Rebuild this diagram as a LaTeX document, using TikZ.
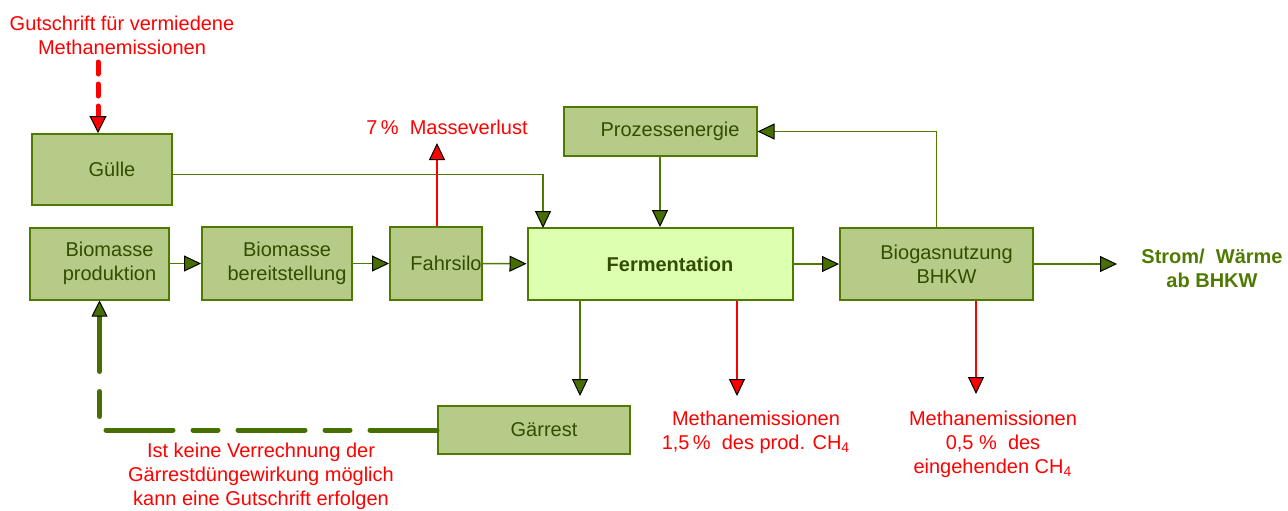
\documentclass[tikz,border=0pt]{standalone}
\usepackage{fontspec}
\setmainfont{Liberation Sans}
\usetikzlibrary{arrows.meta}
\definecolor{boxfill}{RGB}{183,203,136}
\definecolor{fermfill}{RGB}{221,255,176}
\definecolor{boxline}{RGB}{79,122,0}
\definecolor{boxtext}{RGB}{51,77,0}
\definecolor{tipgreen}{RGB}{70,110,0}
\tikzset{
  stage/.style={draw=boxline, line width=1pt, fill=boxfill, text=boxtext, align=center,
    inner sep=0pt, font=\fontsize{10}{12}\selectfont, execute at begin node={\hspace*{10pt}}},
  flow/.style={draw=boxline, line width=0.75pt,
    -{Triangle[color=black, fill=tipgreen, width=8pt, length=8.5pt, line width=0.5pt]}},
  loss/.style={draw=red, line width=0.6pt,
    -{Triangle[color=black, fill=red, width=8pt, length=8.5pt, line width=0.5pt]}},
  note/.style={text=red, align=center, inner sep=0pt, font=\fontsize{10}{12}\selectfont}
}
\begin{document}
\begin{tikzpicture}[x=0.5pt, y=-0.5pt]
  \useasboundingbox (0,0) rectangle (1288,510);
  % Boxes
  \node[stage, minimum width=70pt, minimum height=35.5pt] (guelle) at (102,169.5) {Gülle};
  \node[stage, minimum width=69.5pt, minimum height=36pt] (prod) at (99.5,263.5) {Biomasse\\produktion};
  \node[stage, minimum width=75pt, minimum height=36.5pt] (bereit) at (277,263.5) {Biomasse\\bereitstellung};
  \node[stage, minimum width=46pt, minimum height=36.5pt] (silo) at (436,263.5) {Fahrsilo};
  \node[stage, fill=fermfill, minimum width=132.5pt, minimum height=36pt,
    font=\fontsize{10}{12}\selectfont\bfseries] (ferm) at (660,264) {Fermentation};
  \node[stage, minimum width=96.5pt, minimum height=24.5pt] (energie) at (660,131.5) {Prozessenergie};
  \node[stage, minimum width=96.5pt, minimum height=36pt] (bhkw) at (936.5,264) {Biogasnutzung\\BHKW};
  \node[stage, minimum width=96pt, minimum height=24pt] (gaerrest) at (534,430) {Gärrest};
  % Labels
  \node[note] (topnote) at (122,35) {Gutschrift für vermiedene\\Methanemissionen};
  \node[note] (massnote) at (447,127) {7\,\%\ \ Masseverlust};
  \node[note] (fermnote) at (756,432) {Methanemissionen\\1,5\,\%\ \ des prod. CH\textsubscript{4}};
  \node[note] (bhkwnote) at (993,444) {Methanemissionen\\0,5 \%\ \ des\\eingehenden CH\textsubscript{4}};
  \node[note] (gaernote) at (261,476) {Ist keine Verrechnung der\\Gärrestdüngewirkung möglich\\kann eine Gutschrift erfolgen};
  \node[text=boxline, align=center, inner sep=0pt, font=\fontsize{10}{12}\selectfont\bfseries]
    (strom) at (1212,268) {Strom/\ \ Wärme\\ab BHKW};
  % Free ends
  \coordinate (fermin) at (543,228);
  \coordinate (garin) at (580,396);
  \coordinate (lossmass) at (437,143);
  \coordinate (lossferm) at (737,396);
  \coordinate (lossbhkw) at (976,394);
  \coordinate (stromin) at (1117,264);
  \coordinate (credit) at (98,62);
  % Main flow
  \draw[flow] (prod) -- (bereit);
  \draw[flow] (bereit) -- (silo);
  \draw[flow] (silo) -- (ferm);
  \draw[flow] ([yshift=-2.5pt]guelle.east) -| (fermin);
  \draw[flow] (energie) -- (ferm);
  \draw[flow] (ferm) -- (bhkw);
  \draw[flow] (bhkw.north) |- (energie.east);
  \draw[flow] (bhkw.east) -- (stromin);
  \draw[flow] (garin |- ferm.south) -- (garin);
  % Losses
  \draw[loss] (lossmass |- silo.north) -- (lossmass);
  \draw[loss] (lossferm |- ferm.south) -- (lossferm);
  \draw[loss] (lossbhkw |- bhkw.south) -- (lossbhkw);
  % Credits
  \draw[red, line width=2.5pt, line cap=round, dash pattern=on 6pt off 5pt,
    -{Triangle[color=black, fill=red, width=8.5pt, length=8.5pt, line width=0.5pt]}]
    (credit) -- (credit |- guelle.north);
  \draw[tipgreen, line width=2.5pt, line cap=round,
    dash pattern=on 33.5pt off 10pt on 12.5pt off 10pt,
    -{Triangle[color=black, fill=tipgreen, width=8pt, length=8pt, line width=0.5pt]}]
    (gaerrest.west) -| (prod.south);
\end{tikzpicture}
\end{document}
